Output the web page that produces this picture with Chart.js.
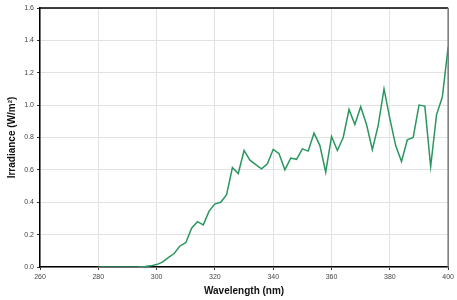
<!DOCTYPE html>
<html>
<head>
<meta charset="utf-8">
<script src="https://cdn.jsdelivr.net/npm/chart.js@4"></script>
<style>
  html, body { margin: 0; padding: 0; background: #fff; }
  #wrap { width: 457px; height: 300px; }
</style>
</head>
<body>
<div id="wrap"><canvas id="myChart"></canvas></div>
<script>
// wavelength in nm, every 2 nm
var wavelength = [280, 282, 284, 286, 288, 290, 292, 294, 296, 298,
  300, 302, 304, 306, 308, 310, 312, 314, 316, 318,
  320, 322, 324, 326, 328, 330, 332, 334, 336, 338,
  340, 342, 344, 346, 348, 350, 352, 354, 356, 358,
  360, 362, 364, 366, 368, 370, 372, 374, 376, 378,
  380, 382, 384, 386, 388, 390, 392, 394, 396, 398, 400];

// irradiance in W/m2
var irradiance = [0, 0, 0, 0, 0, 0, 0, 0.001, 0.003, 0.007,
  0.015, 0.03, 0.058, 0.083, 0.13, 0.15, 0.24, 0.28, 0.26, 0.345,
  0.39, 0.40, 0.447, 0.614, 0.578, 0.72, 0.66, 0.632, 0.607, 0.638,
  0.727, 0.70, 0.60, 0.673, 0.665, 0.73, 0.716, 0.827, 0.75, 0.586,
  0.807, 0.72, 0.80, 0.973, 0.88, 0.99, 0.88, 0.725, 0.875, 1.10,
  0.916, 0.75, 0.652, 0.786, 0.80, 1.00, 0.994, 0.62, 0.94, 1.05, 1.36];

var xTicks = [260, 280, 300, 320, 340, 360, 380, 400];
var yTicks = [0, 0.2, 0.4, 0.6, 0.8, 1.0, 1.2, 1.4, 1.6];

var points = wavelength.map(function(w, i) {
  return { x: w, y: irradiance[i] };
});

// draws the top and right edges of the plot box
var frame = {
  id: 'frame',
  afterDraw: function(chart) {
    var a = chart.chartArea;
    var c = chart.ctx;
    c.save();
    c.lineWidth = 1.5;
    c.strokeStyle = '#000';
    c.beginPath();
    c.moveTo(a.left, a.top);
    c.lineTo(a.right, a.top);
    c.stroke();
    c.strokeStyle = '#777';
    c.beginPath();
    c.moveTo(a.right, a.top);
    c.lineTo(a.right, a.bottom);
    c.stroke();
    c.restore();
  }
};

var ctx = document.getElementById('myChart');
var myChart = new Chart(ctx, {
  type: 'line',
  data: {
    datasets: [{
      data: points,
      borderColor: '#2a9660',
      borderWidth: 1.5,
      pointRadius: 0,
      tension: 0,
      fill: false
    }]
  },
  options: {
    responsive: true,
    maintainAspectRatio: false,
    animation: false,
    layout: { padding: { left: 0, right: 7, top: 8, bottom: 0 } },
    plugins: {
      legend: { display: false },
      tooltip: { enabled: false }
    },
    scales: {
      x: {
        type: 'linear',
        min: 260,
        max: 400,
        afterBuildTicks: function(scale) {
          scale.ticks = xTicks.map(function(v) { return { value: v }; });
        },
        afterFit: function(scale) { scale.height = 33; },
        grid: { color: '#e2e2e2', lineWidth: 1, tickColor: '#333', tickLength: 3 },
        border: { color: '#000', width: 1.5 },
        ticks: {
          color: '#444',
          font: { family: 'Liberation Sans', size: 7 },
          padding: 3,
          maxRotation: 0
        },
        title: {
          display: true,
          text: 'Wavelength (nm)',
          color: '#111',
          font: { family: 'Liberation Sans', size: 10, weight: 'bold' },
          padding: { top: 0, bottom: 3 }
        }
      },
      y: {
        min: 0,
        max: 1.6,
        afterBuildTicks: function(scale) {
          scale.ticks = yTicks.map(function(v) { return { value: v }; });
        },
        afterFit: function(scale) { scale.width = 40; },
        grid: { color: '#e2e2e2', lineWidth: 1, tickColor: '#333', tickLength: 3 },
        border: { color: '#000', width: 1.5 },
        ticks: {
          color: '#444',
          font: { family: 'Liberation Sans', size: 7 },
          padding: 3,
          callback: function(v) { return v.toFixed(1); }
        },
        title: {
          display: true,
          text: 'Irradiance (W/m²)',
          color: '#111',
          font: { family: 'Liberation Sans', size: 10, weight: 'bold' },
          padding: { top: 6, bottom: 0 }
        }
      }
    }
  },
  plugins: [frame]
});
</script>
</body>
</html>
